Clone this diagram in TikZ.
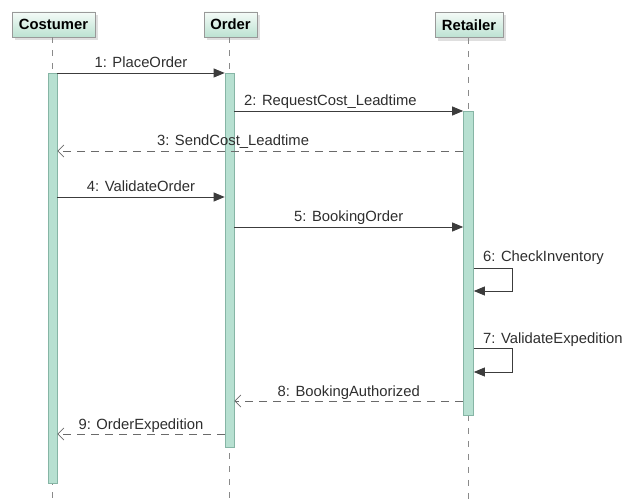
\documentclass[tikz,border=0pt]{standalone}
\usepackage{fontspec}
\setmainfont{Liberation Sans}
\usetikzlibrary{arrows.meta,calc}
\definecolor{actfill}{HTML}{B7E0D1}
\definecolor{actdraw}{HTML}{86B5A5}
\definecolor{headtop}{HTML}{F4FBF7}
\definecolor{headbot}{HTML}{BCE2D2}
\definecolor{msgline}{HTML}{3C3C3C}
\definecolor{retline}{HTML}{6A6A6A}
\definecolor{lifeline}{HTML}{8A8A8A}
\definecolor{labeltext}{HTML}{2E2E2E}
\begin{document}
\begin{tikzpicture}[x=1pt,y=-1pt,
  actor/.style={draw=gray!80, line width=0.8pt, top color=headtop, bottom color=headbot,
    minimum height=25pt, inner sep=0pt, font=\fontsize{14.8}{16}\selectfont\bfseries,
    text=black},
  actorshadow/.style={fill=gray!25, draw=none},
  activation/.style={draw=actdraw, fill=actfill, line width=0.7pt, minimum width=9pt,
    inner sep=0pt, anchor=north},
  life/.style={draw=lifeline, line width=0.6pt, dash pattern=on 6pt off 7pt},
  call/.style={draw=msgline, line width=0.8pt, -{Triangle[length=11pt,width=9pt]}},
  reply/.style={draw=retline, line width=0.7pt, dash pattern=on 8pt off 6pt,
    -{Straight Barb[length=6pt,width=12pt,line width=0.8pt]}},
  msg/.style={font=\fontsize{14.8}{16}\selectfont, text=labeltext, anchor=base,
    inner sep=0pt, yshift=5pt},
  selfmsg/.style={font=\fontsize{14.8}{16}\selectfont, text=labeltext, anchor=base west,
    inner sep=0pt}]
  \useasboundingbox (0,0) rectangle (623,502);

  % shadows behind the participant boxes
  \fill[actorshadow] (15,15) rectangle (98,40);
  \fill[actorshadow] (207,15) rectangle (260,40);
  \fill[actorshadow] (438,15) rectangle (506,41);

  % participants
  \node[actor, minimum width=83pt] (cust) at (53.5,24.5) {Costumer};
  \node[actor, minimum width=53pt] (ord) at (230.5,24.5) {Order};
  \node[actor, minimum width=68pt] (ret) at (469,25) {Retailer};

  % lifeline ends
  \coordinate (custEnd) at (52,502);
  \coordinate (ordEnd) at (229,502);
  \coordinate (retEnd) at (468,502);

  % lifelines
  \draw[life] (cust.south -| custEnd) -- (custEnd);
  \draw[life] (ord.south -| ordEnd) -- (ordEnd);
  \draw[life] (ret.south -| retEnd) -- (retEnd);

  % activation bars
  \node[activation, minimum height=410pt] (actC) at (52.5,73) {};
  \node[activation, minimum height=374pt] (actO) at (229.5,73) {};
  \node[activation, minimum width=10pt, minimum height=304pt] (actR) at (468.5,111) {};

  % message rows
  \coordinate (m1) at (0,73);
  \coordinate (m2) at (0,111);
  \coordinate (m3) at (0,151);
  \coordinate (m4) at (0,197);
  \coordinate (m5) at (0,227);
  \coordinate (m6a) at (0,268);
  \coordinate (m6b) at (0,291);
  \coordinate (m7a) at (0,348);
  \coordinate (m7b) at (0,372);
  \coordinate (m8) at (0,401);
  \coordinate (m9) at (0,434);
  \coordinate (loopx) at (512,0);

  % messages
  \draw[call] (actC.east |- m1) -- node[msg] {1: PlaceOrder} (actO.west |- m1);
  \draw[call] (actO.east |- m2) -- node[msg, pos=0.42] {2: RequestCost\_Leadtime} (actR.west |- m2);
  \draw[reply] (actR.west |- m3) -- node[msg, pos=0.567] {3: SendCost\_Leadtime} (actC.east |- m3);
  \draw[call] (actC.east |- m4) -- node[msg] {4: ValidateOrder} (actO.west |- m4);
  \draw[call] (actO.east |- m5) -- node[msg] {5: BookingOrder} (actR.west |- m5);
  \draw[call] (actR.east |- m6a) -- (loopx |- m6a) -- (loopx |- m6b) -- (actR.east |- m6b);
  \node[selfmsg] (l6) at (483,262) {6: CheckInventory};
  \draw[call] (actR.east |- m7a) -- (loopx |- m7a) -- (loopx |- m7b) -- (actR.east |- m7b);
  \node[selfmsg] (l7) at (483,343) {7: ValidateExpedition};
  \draw[reply] (actR.west |- m8) -- node[msg] {8: BookingAuthorized} (actO.east |- m8);
  \draw[reply] (actO.west |- m9) -- node[msg] {9: OrderExpedition} (actC.east |- m9);
\end{tikzpicture}
\end{document}
